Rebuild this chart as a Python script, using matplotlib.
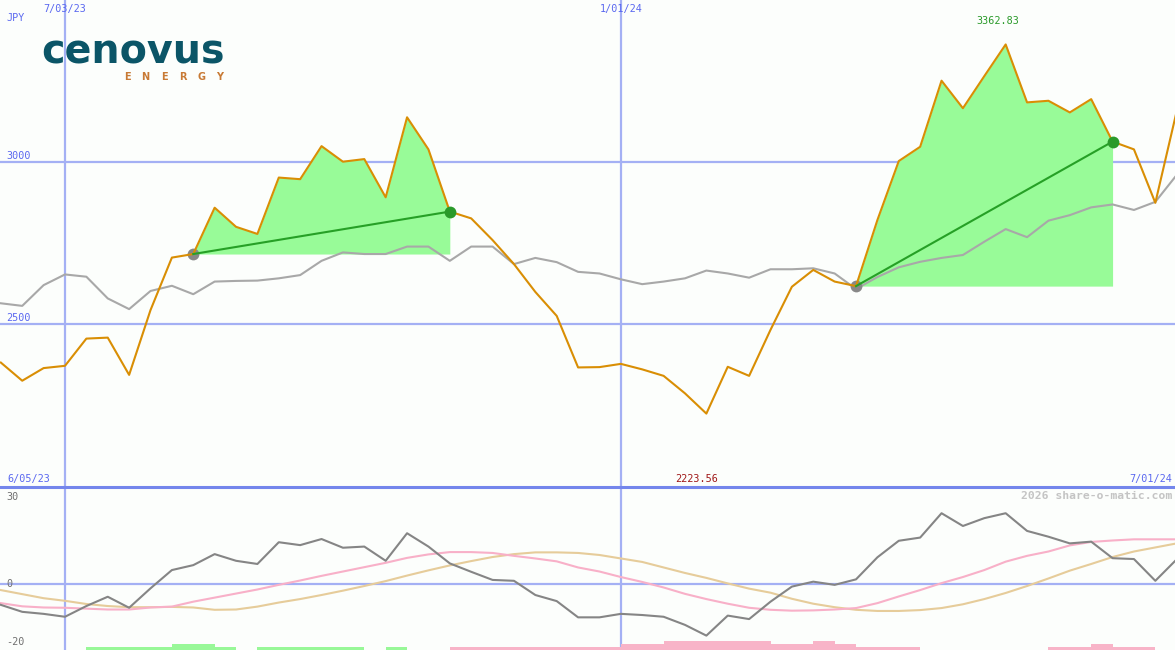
import numpy as np
import matplotlib
matplotlib.use("Agg")
import matplotlib.pyplot as plt
import matplotlib.transforms as mtransforms

# ---------------- data (weekly, week 0 = 7/03/23) ----------------
weeks = np.arange(-3, 53)

price = [2381, 2325, 2364, 2371, 2455, 2458, 2343, 2543, 2705, 2716,
         2859, 2800, 2778, 2952, 2947, 3049, 3001, 3009, 2891, 3138,
         3039, 2847, 2826, 2759, 2685, 2599, 2525, 2366, 2367, 2377,
         2360, 2340, 2286, 2223.56, 2368, 2340, 2482, 2615, 2667, 2631,
         2617, 2821, 3003, 3047, 3251, 3166, 3265, 3362.83, 3184, 3189,
         3153, 3194, 3063, 3039, 2874, 3157]

compare = [2564, 2556, 2620, 2653, 2646, 2579, 2546, 2602, 2618, 2592,
           2631, 2633, 2634, 2641, 2651, 2695, 2721, 2716, 2716, 2739,
           2739, 2695, 2739, 2739, 2685, 2704, 2691, 2661, 2656, 2638,
           2623, 2631, 2641, 2665, 2656, 2643, 2669, 2669, 2672, 2656,
           2608, 2645, 2675, 2692, 2704, 2713, 2754, 2793, 2768, 2819,
           2836, 2860, 2869, 2852, 2877, 2960]

momentum = [-7.3, -9.7, -10.4, -11.4, -7.7, -4.5, -8.3, -1.6, 4.7, 6.4,
            10.2, 7.9, 6.8, 14.3, 13.3, 15.4, 12.4, 12.8, 7.9, 17.4,
            12.8, 7.0, 4.1, 1.3, 1.0, -3.9, -6.0, -11.6, -11.6, -10.4,
            -10.8, -11.4, -14.2, -17.9, -11.0, -12.2, -6.2, -1.0, 0.7, -0.4,
            1.5, 9.1, 14.8, 15.9, 24.3, 19.9, 22.6, 24.3, 18.2, 16.2,
            13.9, 14.5, 8.8, 8.5, 1.0, 8.4]

fast_avg = [-6.7, -7.8, -8.2, -8.3, -8.6, -8.9, -8.9, -8.2, -7.9, -6.2,
            -4.8, -3.4, -2.0, -0.4, 1.1, 2.7, 4.2, 5.7, 7.2, 8.9,
            10.1, 10.9, 10.9, 10.6, 9.6, 8.7, 7.7, 5.6, 4.2, 2.3,
            0.6, -1.3, -3.5, -5.3, -6.9, -8.3, -9.0, -9.3, -9.2, -8.9,
            -8.4, -6.7, -4.4, -2.2, 0.2, 2.3, 4.7, 7.6, 9.6, 11.1,
            13.2, 14.4, 14.9, 15.3, 15.3, 15.3]

slow_avg = [-2.2, -3.6, -5.0, -5.9, -7.0, -7.7, -8.1, -8.1, -8.0, -8.2,
            -9.0, -8.9, -7.9, -6.5, -5.3, -3.9, -2.4, -0.8, 0.9, 2.8,
            4.6, 6.3, 7.8, 9.2, 10.2, 10.8, 10.8, 10.6, 9.9, 8.7,
            7.5, 5.6, 3.7, 2.0, 0.1, -1.7, -3.1, -5.2, -6.9, -8.1,
            -9.0, -9.4, -9.4, -9.1, -8.4, -7.1, -5.3, -3.2, -0.8, 1.8,
            4.5, 6.8, 9.2, 11.1, 12.5, 13.9]

# signal strength bars: + green, - pink
signal = [0, 0, 0, 0, 1, 1, 1, 1, 2, 2,
          1, 0, 1, 1, 1, 1, 1, 0, 1, 0,
          0, -1, -1, -1, -1, -1, -1, -1, -1, -2,
          -2, -3, -3, -3, -3, -3, -2, -2, -3, -2,
          -1, -1, -1, 0, 0, 0, 0, 0, 0, -1,
          -1, -2, -1, -1, 0, 0]

# highlighted up-runs (start week, end week)
runs = [(6, 18), (37, 49)]

date_lines = [0, 26]
date_labels = ["7/03/23", "1/01/24"]
price_levels = [3000, 2500]
osc_levels = [30, 0, -20]

# ---------------- style ----------------
W, H = 1175, 650
BG = "#fcfefc"
GRID = "#a4b0f4"
SEP = "#7486ec"
BLUE_TXT = "#5a68f0"
MONO = "DejaVu Sans Mono"
FS = 7.3


def px(x, y):
    return x / W, 1 - y / H


fig = plt.figure(figsize=(W / 100, H / 100), dpi=100, facecolor=BG)

split = 487
ax = fig.add_axes([0, 1 - split / H, 1, split / H])
ax2 = fig.add_axes([0, 0, 1, 1 - split / H])
for a in (ax, ax2):
    a.set_facecolor(BG)
    a.axis("off")
    a.set_xlim(-3.04, 51.92)

ax.set_ylim(1997, 3500)
ax2.set_ylim(-22.86, 33.34)

wk = np.array(weeks)
pr = np.array(price)

# grid
for d in date_lines:
    ax.axvline(d, color=GRID, lw=1.6, zorder=1)
    ax2.axvline(d, color=GRID, lw=1.6, zorder=1)
for lv in price_levels:
    ax.axhline(lv, color=GRID, lw=1.6, zorder=1)
ax2.axhline(0, color=GRID, lw=1.6, zorder=1)

# highlighted runs
for s, e in runs:
    i0, i1 = s + 3, e + 3
    base = pr[i0]
    ax.fill_between(wk[i0:i1 + 1], pr[i0:i1 + 1], base, color="#98fb98", lw=0, zorder=2)

ax.plot(wk, compare, color="#a8a8a8", lw=1.5, zorder=3)

for s, e in runs:
    i0, i1 = s + 3, e + 3
    ax.plot(wk[i0], pr[i0], "o", color="#888888", ms=8.5, zorder=3.5, mec="none")

ax.plot(wk, pr, color="#d98e04", lw=1.5, zorder=4)

for s, e in runs:
    i0, i1 = s + 3, e + 3
    ax.plot([wk[i0], wk[i1]], [pr[i0], pr[i1]], color="#26a026", lw=1.5, zorder=5)
    ax.plot(wk[i1], pr[i1], "o", color="#2a9a2a", ms=8.5, zorder=6, mec="none")

# oscillator panel
sig = np.array(signal)
colors = ["#98f898" if v > 0 else "#f8b4c8" for v in sig]
ax2.bar(wk, np.abs(sig) * 1.05, width=1.0, align="edge", bottom=-22.86,
        color=colors, lw=0, zorder=2)
ax2.plot(wk, slow_avg, color="#e6cc9a", lw=1.5, zorder=3)
ax2.plot(wk, fast_avg, color="#f8b0c8", lw=1.5, zorder=4)
ax2.plot(wk, momentum, color="#858585", lw=1.5, zorder=5)

# separator between panels
fig.add_artist(plt.Line2D([0, 1], [1 - split / H] * 2, color=SEP, lw=2.2))

# texts
fig.text(*px(6, 18), "JPY", color=BLUE_TXT, fontsize=FS, family=MONO, va="center")
for d, lab in zip(date_lines, date_labels):
    tr = mtransforms.blended_transform_factory(ax.transData, fig.transFigure)
    fig.text(d, 1 - 9 / H, lab, transform=tr, color=BLUE_TXT, fontsize=FS,
             family=MONO, ha="center", va="center")
for lv in price_levels:
    y = ax.transData.transform((0, lv))[1]
    fig.text(6 / W, (y + 6) / H, str(lv), color=BLUE_TXT, fontsize=FS,
             family=MONO, va="center")
for lv in osc_levels:
    y = ax2.transData.transform((0, lv))[1]
    fig.text(6 / W, y / H, str(lv), color="#707070", fontsize=FS,
             family=MONO, va="center")

tr = mtransforms.blended_transform_factory(ax.transData, fig.transFigure)
imax = int(np.argmax(pr))
imin = int(np.argmin(pr))
fig.text(wk[imax] - 0.35, 1 - 21 / H, f"{pr[imax]:.2f}", transform=tr,
         color="#2a9a2a", fontsize=FS, family=MONO, ha="center", va="center")
fig.text(wk[imin] - 0.45, 1 - 479 / H, f"{pr[imin]:.2f}", transform=tr,
         color="#a01818", fontsize=FS, family=MONO, ha="center", va="center")
fig.text(*px(7, 479), "6/05/23", color=BLUE_TXT, fontsize=FS, family=MONO, va="center")
fig.text(*px(1172, 479), "7/01/24", color=BLUE_TXT, fontsize=FS, family=MONO,
         va="center", ha="right")
fig.text(*px(1172, 496), "2026 share-o-matic.com", color="#c4c4c4", fontsize=8.2,
         family=MONO, weight="bold", va="center", ha="right")

# logo
fig.text(*px(41, 63), "cenovus", color="#0b5567", fontsize=28.5, weight="bold",
         family="DejaVu Sans", va="baseline", ha="left")
for i, ch in enumerate("ENERGY"):
    fig.text(*px(127 + i * 18.6, 77.5), ch, color="#c87a35", fontsize=7,
             weight="bold", family="DejaVu Sans", va="center", ha="center")

fig.savefig("out.png", dpi=100, facecolor=BG)
